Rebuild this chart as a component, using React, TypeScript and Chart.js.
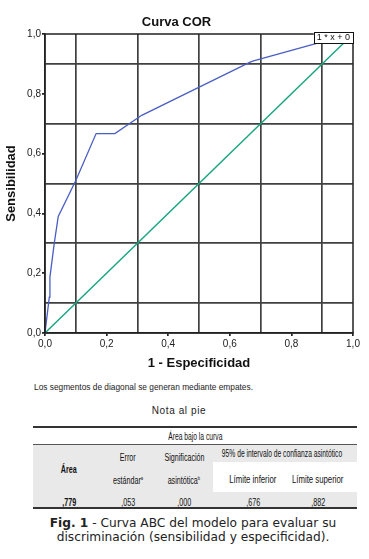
import React, { useEffect, useRef } from "react";
import { Chart, registerables } from "chart.js";

Chart.register(...registerables);

// ---- Data ----
const rocX = [0, 0.014, 0.016, 0.03, 0.043, 0.1, 0.166, 0.227, 0.314, 0.666, 0.677, 0.888, 1];
const rocY = [0, 0.12, 0.187, 0.3, 0.39, 0.51, 0.667, 0.667, 0.728, 0.906, 0.91, 0.97, 1];
const diagX = [0, 1];
const diagY = [0, 1];

const chartTitle = "Curva COR";
const xTitle = "1 - Especificidad";
const yTitle = "Sensibilidad";
const refLineLabel = "1 * x + 0";

const noteLine = "Los segmentos de diagonal se generan mediante empates.";
const footNote = "Nota al pie";
const tableTitle = "Área bajo la curva";
const ciHeader = "95% de intervalo de confianza asintótico";
const colHeaders = ["Área", "Error", "Significación", "Límite inferior", "Límite superior"];
const colHeaders2 = ["", "estándar", "asintótica", "", ""];
const colSup = ["", "a", "b", "", ""];
const tableValues = [",779", ",053", ",000", ",676", ",882"];
const captionBold = "Fig. 1";
const captionLine1 = " - Curva ABC del modelo para evaluar su";
const captionLine2 = "discriminación (sensibilidad y especificidad).";

const fmt = (v: number) => v.toFixed(1).replace(".", ",");
const tenth = (v: number) => Math.round(v * 10);

const framePlugin = {
  id: "frameAndLabel",
  afterDatasetsDraw(chart: any) {
    const { ctx, chartArea, scales } = chart;
    ctx.save();
    ctx.strokeStyle = "#222";
    ctx.lineWidth = 1.5;
    ctx.strokeRect(chartArea.left, chartArea.top, chartArea.right - chartArea.left, chartArea.bottom - chartArea.top);
    // reference line label
    ctx.font = "9px 'Liberation Sans', Arial, sans-serif";
    const tw = ctx.measureText(refLineLabel).width;
    const xr = scales.x.getPixelForValue(1);
    const yt = scales.y.getPixelForValue(1);
    const w = tw + 6;
    const h = 11;
    ctx.fillStyle = "#fff";
    ctx.fillRect(xr - w, yt - 2, w, h);
    ctx.strokeStyle = "#111";
    ctx.lineWidth = 1;
    ctx.strokeRect(Math.round(xr - w) + 0.5, Math.round(yt - 2) + 0.5, Math.round(w), h);
    ctx.fillStyle = "#111";
    ctx.textBaseline = "middle";
    ctx.textAlign = "center";
    ctx.fillText(refLineLabel, xr - w / 2, yt - 2 + h / 2 + 0.5);
    ctx.restore();
  },
};

function ChartBox() {
  const ref = useRef<HTMLCanvasElement | null>(null);
  useEffect(() => {
    if (!ref.current) return;
    const gridColor = (c: any) => (c.tick && tenth(c.tick.value) % 2 === 1 ? "#404040" : "rgba(0,0,0,0)");
    const tickColor = (c: any) => (c.tick && tenth(c.tick.value) % 2 === 0 ? "#222" : "rgba(0,0,0,0)");
    const tickCb = (v: any) => (tenth(Number(v)) % 2 === 0 ? fmt(Number(v)) : "");
    const chart = new Chart(ref.current, {
      type: "scatter",
      data: {
        datasets: [
          {
            data: diagX.map((x, i) => ({ x, y: diagY[i] })),
            showLine: true,
            borderColor: "#17a57e",
            borderWidth: 1.4,
            pointRadius: 0,
          },
          {
            data: rocX.map((x, i) => ({ x, y: rocY[i] })),
            showLine: true,
            borderColor: "#4a5ec4",
            borderWidth: 1.3,
            pointRadius: 0,
          },
        ],
      },
      options: {
        responsive: false,
        animation: false,
        devicePixelRatio: 1,
        layout: { padding: { left: 0, right: 16, top: 0, bottom: 4 } },
        plugins: {
          legend: { display: false },
          tooltip: { enabled: false },
          title: {
            display: true,
            text: chartTitle,
            color: "#111",
            font: { family: "'Liberation Sans', Arial, sans-serif", size: 13, weight: "bold" },
            padding: { top: 15, bottom: 3.4 },
          },
        },
        scales: {
          x: {
            type: "linear",
            min: 0,
            max: 1,
            afterFit: (s: any) => {
              s.height = 38;
            },
            ticks: {
              stepSize: 0.1,
              autoSkip: false,
              maxRotation: 0,
              callback: tickCb,
              color: "#222",
              padding: 2,
              font: { family: "'Liberation Sans', Arial, sans-serif", size: 10 },
            },
            grid: { color: gridColor, tickColor, lineWidth: 1.7, tickLength: 3, drawTicks: true },
            border: { display: true, color: "#222", width: 1.5 },
            title: {
              display: true,
              text: xTitle,
              color: "#111",
              padding: 0,
              font: { family: "'Liberation Sans', Arial, sans-serif", size: 13, weight: "bold" },
            },
          },
          y: {
            type: "linear",
            min: 0,
            max: 1,
            afterFit: (s: any) => {
              s.width = 45;
            },
            ticks: {
              stepSize: 0.1,
              autoSkip: false,
              callback: tickCb,
              color: "#222",
              padding: 1,
              font: { family: "'Liberation Sans', Arial, sans-serif", size: 10 },
            },
            grid: { color: gridColor, tickColor, lineWidth: 1.7, tickLength: 3, drawTicks: true },
            border: { display: true, color: "#222", width: 1.5 },
            title: {
              display: true,
              text: yTitle,
              color: "#111",
              padding: { top: 4, bottom: 0 },
              font: { family: "'Liberation Sans', Arial, sans-serif", size: 13, weight: "bold" },
            },
          },
        },
      },
      plugins: [framePlugin],
    } as any);
    return () => chart.destroy();
  }, []);
  return <canvas ref={ref} width={369} height={375} style={{ position: "absolute", left: 0, top: 0, width: 369, height: 375 }} />;
}

const narrow = "'Liberation Sans', Arial, sans-serif";
const colCenters = [69, 128, 184, 253, 318];

function Cell({ x, y, children, bold, size, sx }: any) {
  return (
    <div
      style={{
        position: "absolute",
        left: x - 100,
        width: 200,
        top: y - 7,
        height: 14,
        lineHeight: "14px",
        textAlign: "center",
        fontFamily: narrow,
        fontSize: size || 10.5,
        fontWeight: bold ? "bold" : "normal",
        color: "#111",
        whiteSpace: "nowrap",
      }}
    >
      <span style={{ display: "inline-block", transform: `scaleX(${sx || 0.68})`, transformOrigin: "center" }}>{children}</span>
    </div>
  );
}

export default function App() {
  useEffect(() => {
    document.body.style.margin = "0";
  }, []);
  return (
    <div style={{ position: "relative", width: 369, height: 559, background: "#fff", overflow: "hidden" }}>
      <ChartBox />
      <div
        style={{
          position: "absolute",
          left: 34,
          top: 381,
          fontFamily: "'Liberation Sans', Arial, sans-serif",
          fontSize: 9.8,
          lineHeight: "12px",
          color: "#222",
          whiteSpace: "nowrap",
          transform: "scaleX(0.85)",
          transformOrigin: "left",
        }}
      >
        {noteLine}
      </div>
      <div
        style={{
          position: "absolute",
          left: 0,
          width: 358,
          top: 405,
          textAlign: "center",
          fontFamily: "'Liberation Sans', Arial, sans-serif",
          fontSize: 10,
          letterSpacing: 0.6,
          lineHeight: "12px",
          color: "#222",
        }}
      >
        {footNote}
      </div>
      {/* table */}
      <div style={{ position: "absolute", left: 33, top: 426, width: 324, height: 1.5, background: "#333" }} />
      <div style={{ position: "absolute", left: 33, top: 444, width: 324, height: 63, background: "#e9e9e9" }} />
      <div style={{ position: "absolute", left: 33, top: 443.5, width: 324, height: 1, background: "#555" }} />
      <div style={{ position: "absolute", left: 213, top: 462, width: 144, height: 30, background: "#fff" }} />
      <div style={{ position: "absolute", left: 33, top: 507, width: 324, height: 1.5, background: "#333" }} />
      <Cell x={195} y={436} sx={0.64}>{tableTitle}</Cell>
      <Cell x={282} y={453} sx={0.64}>{ciHeader}</Cell>
      <Cell x={colCenters[0]} y={469} bold>{colHeaders[0]}</Cell>
      {[1, 2].map((i) => (
        <React.Fragment key={i}>
          <Cell x={colCenters[i]} y={457}>{colHeaders[i]}</Cell>
          <Cell x={colCenters[i]} y={478}>
            {colHeaders2[i]}
            <sup style={{ fontSize: 6, verticalAlign: "4px" }}>{colSup[i]}</sup>
          </Cell>
        </React.Fragment>
      ))}
      {[3, 4].map((i) => (
        <Cell key={i} x={colCenters[i]} y={479} sx={0.74}>{colHeaders[i]}</Cell>
      ))}
      {tableValues.map((v, i) => (
        <Cell key={v} x={colCenters[i]} y={502} bold={i === 0}>{v}</Cell>
      ))}
      {/* caption */}
      <div
        style={{
          position: "absolute",
          left: 0,
          width: 386,
          top: 517,
          textAlign: "center",
          fontFamily: "'DejaVu Sans', Verdana, sans-serif",
          fontSize: 12.2,
          lineHeight: "13.5px",
          color: "#222",
        }}
      >
        <div>
          <b>{captionBold}</b>
          {captionLine1}
        </div>
        <div>{captionLine2}</div>
      </div>
    </div>
  );
}
